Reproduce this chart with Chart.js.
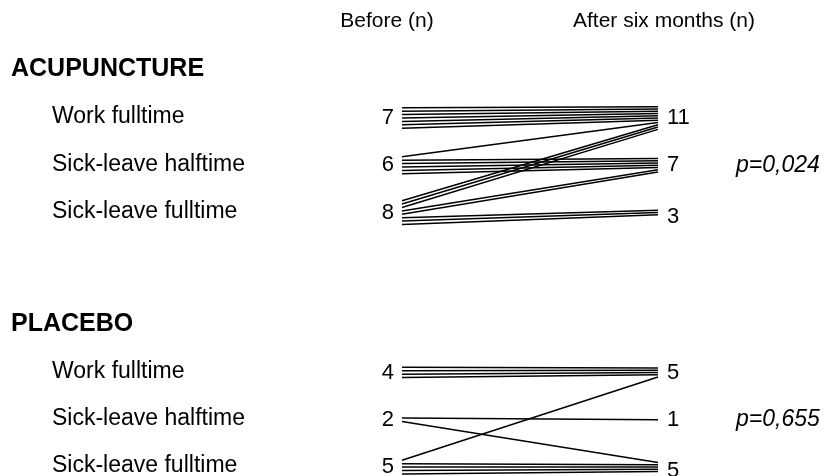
<!DOCTYPE html>
<html>
<head>
<meta charset="utf-8">
<script src="https://cdn.jsdelivr.net/npm/chart.js@4/dist/chart.umd.min.js"></script>
<style>
  html, body { margin: 0; padding: 0; background: #fff; }
  #wrap { width: 829px; height: 476px; }
</style>
</head>
<body>
<div id="wrap"><canvas id="flows" width="829" height="476"></canvas></div>
<script>
// --- data ---
const columnTitles = ["Before (n)", "After six months (n)"];
const categories = ["Work fulltime", "Sick-leave halftime", "Sick-leave fulltime"];
const groups = ["ACUPUNCTURE", "PLACEBO"];

const acuBefore = [7, 6, 8];
const acuAfter = [11, 7, 3];
// rows = status before, columns = status after
const acuFlows = [[7, 0, 0], [1, 5, 0], [3, 2, 3]];

const plaBefore = [4, 2, 5];
const plaAfter = [5, 1, 5];
const plaFlows = [[4, 0, 0], [0, 1, 1], [1, 0, 4]];

const pValues = ["p=0,024", "p=0,655"];

// row positions of each group on the y scale
const groupRowStart = [0, 5.38];
const gapBefore = 0.072, gapAfter = 0.048;

function slotY(row, s, n, gap) {
  return row + (s - (n - 1) / 2) * gap;
}

function buildLines(flows, before, after, rowStart) {
  const out = [];
  const beforeSlot = [0, 0, 0];
  // after slots: ordered by source row
  const afterOrder = {};
  for (let j = 0; j < 3; j++) {
    let t = 0;
    for (let i = 0; i < 3; i++) {
      for (let k = 0; k < flows[i][j]; k++) {
        afterOrder[i + "-" + j + "-" + k] = t++;
      }
    }
  }
  for (let i = 0; i < 3; i++) {
    for (let j = 0; j < 3; j++) {
      for (let k = 0; k < flows[i][j]; k++) {
        const s = beforeSlot[i]++;
        const t = afterOrder[i + "-" + j + "-" + k];
        out.push({
          data: [
            { x: 0, y: slotY(rowStart + i, s, before[i], gapBefore) },
            { x: 1, y: slotY(rowStart + j, t, after[j], gapAfter) }
          ],
          borderColor: "#000",
          borderWidth: 1.5,
          pointRadius: 0,
          showLine: true,
          fill: false
        });
      }
    }
  }
  return out;
}

const datasets = buildLines(acuFlows, acuBefore, acuAfter, groupRowStart[0])
  .concat(buildLines(plaFlows, plaBefore, plaAfter, groupRowStart[1]));

const FONT = '"Liberation Sans", Arial, Helvetica, sans-serif';

const textPlugin = {
  id: "texts",
  beforeDraw(chart) {
    const c = chart.ctx;
    c.save();
    c.fillStyle = "#fff";
    c.fillRect(0, 0, chart.width, chart.height);
    c.restore();
  },
  afterDraw(chart) {
    const c = chart.ctx;
    const xs = chart.scales.x, ys = chart.scales.y;
    const xBefore = xs.getPixelForValue(0);
    const xAfter = xs.getPixelForValue(1);
    c.save();
    c.fillStyle = "#000";
    c.textBaseline = "middle";

    c.font = "21px " + FONT;
    c.textAlign = "center";
    c.fillText(columnTitles[0], xBefore - 15, 21);
    c.fillText(columnTitles[1], xAfter + 6, 21);

    const sets = [[acuBefore, acuAfter], [plaBefore, plaAfter]];
    groups.forEach((g, gi) => {
      const r0 = groupRowStart[gi];
      c.font = "bold 25px " + FONT;
      c.textAlign = "left";
      c.fillText(g, 11, ys.getPixelForValue(r0 - 1.03));
      categories.forEach((cat, ci) => {
        const y = ys.getPixelForValue(r0 + ci);
        c.font = "23px " + FONT;
        c.textAlign = "left";
        c.fillText(cat, 52, y - 1);
        c.font = "22px " + FONT;
        c.textAlign = "right";
        c.fillText(String(sets[gi][0][ci]), xBefore - 8, y);
        c.textAlign = "left";
        c.fillText(String(sets[gi][1][ci]), xAfter + 9, y + (ci === 2 ? 4 : 0));
      });
      c.font = "italic 23px " + FONT;
      c.textAlign = "left";
      c.fillText(pValues[gi], 736, ys.getPixelForValue(r0 + 1));
    });
    c.restore();
  }
};

new Chart(document.getElementById("flows"), {
  type: "scatter",
  data: { datasets: datasets },
  options: {
    responsive: false,
    animation: false,
    layout: { padding: 0 },
    plugins: { legend: { display: false }, tooltip: { enabled: false } },
    scales: {
      x: { type: "linear", display: false, min: -1.5703, max: 1.668 },
      y: { type: "linear", display: false, reverse: true, min: -2.4947, max: 7.5687 }
    }
  },
  plugins: [textPlugin]
});
</script>
</body>
</html>
